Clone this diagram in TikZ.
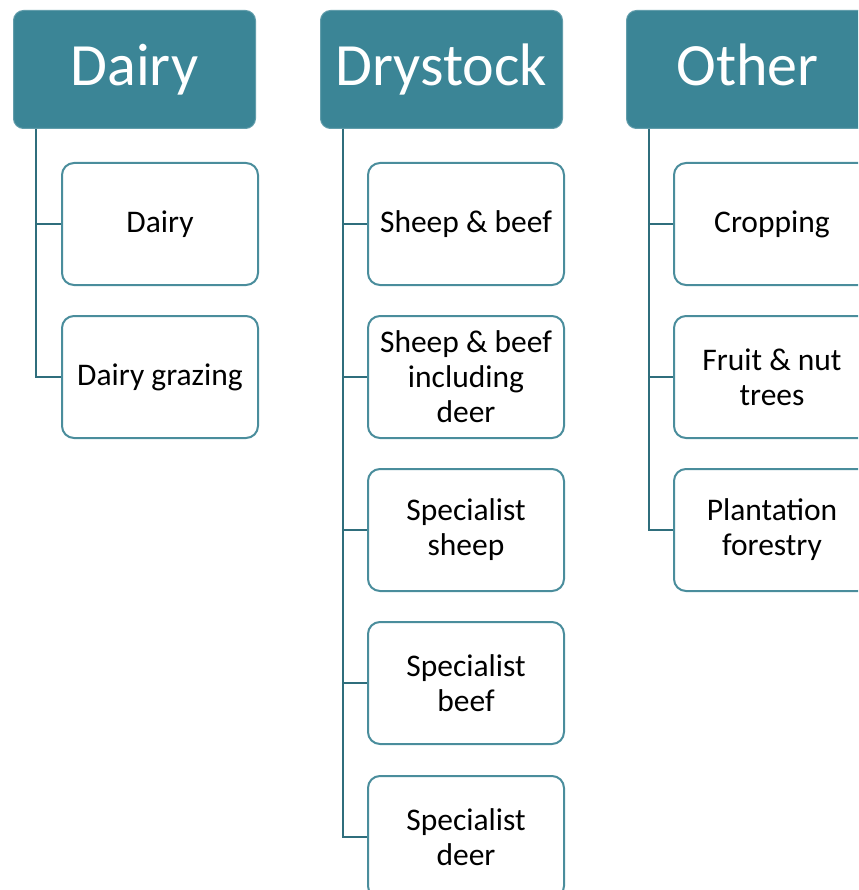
\documentclass[tikz,border=0pt]{standalone}
\usepackage{fontspec}
\setmainfont{Carlito}
\definecolor{hdr}{HTML}{3B8596}
\definecolor{brd}{HTML}{4A8D9C}
\definecolor{conn}{HTML}{2F6E7C}
\begin{document}
\begin{tikzpicture}[x=1pt,y=-1pt,
  hbox/.style={rectangle,rounded corners=10pt,fill=hdr,draw=hdr!80!white,line width=1pt,minimum width=242pt,minimum height=118pt,anchor=north west,text=white,font=\fontsize{60}{66}\selectfont,inner sep=0pt},
  cbox/.style={rectangle,rounded corners=12pt,fill=white,draw=brd,line width=2pt,minimum width=196pt,minimum height=122pt,anchor=north west,align=center,font=\fontsize{31.5}{35}\selectfont,inner sep=0pt},
  cline/.style={draw=conn,line width=2.7pt}]
\useasboundingbox (0,0) rectangle (858,890);
\clip (0,0) rectangle (858,890);
% headers
\node[hbox] (hA) at (13,10) {\vphantom{Dy}Dairy};
\node[hbox] (hB) at (320,10) {\vphantom{Dy}Drystock};
\node[hbox] (hC) at (626,10) {\vphantom{Dy}Other};
% Dairy children
\node[cbox] (a1) at (61,162) {Dairy};
\node[cbox] (a2) at (61,315) {Dairy grazing};
% Drystock children
\node[cbox] (b1) at (367,162) {Sheep \& beef};
\node[cbox] (b2) at (367,315) {Sheep \& beef\\including\\deer};
\node[cbox] (b3) at (367,468) {Specialist\\sheep};
\node[cbox] (b4) at (367,621) {Specialist\\beef};
\node[cbox] (b5) at (367,775) {Specialist\\deer};
% Other children
\node[cbox] (c1) at (673,162) {Cropping};
\node[cbox] (c2) at (673,315) {Fruit \& nut\\trees};
\node[cbox] (c3) at (673,468) {Plantation\\forestry};
% connector roots
\coordinate (ra) at ([xshift=23pt]hA.south west);
\coordinate (rb) at ([xshift=23pt]hB.south west);
\coordinate (rc) at ([xshift=23pt]hC.south west);
\foreach \n in {a1,a2} \draw[cline] (ra) |- (\n.west);
\foreach \n in {b1,b2,b3,b4,b5} \draw[cline] (rb) |- (\n.west);
\foreach \n in {c1,c2,c3} \draw[cline] (rc) |- (\n.west);
\end{tikzpicture}
\end{document}
